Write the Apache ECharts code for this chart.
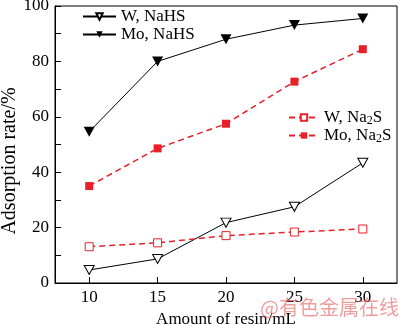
<!DOCTYPE html>
<html><head><meta charset="utf-8">
<script src="https://cdn.jsdelivr.net/npm/echarts@6/dist/echarts.min.js"></script>
<style>html,body{margin:0;padding:0;background:#fff}#c{width:400px;height:324px}</style>
</head><body><div id="c"></div>
<script>
const resinAmount = [10, 15, 20, 25, 30];
const wNaHS = [4.7, 8.7, 21.8, 27.5, 43.4];
const moNaHS = [54.6, 80.0, 88.0, 93.1, 95.5];
const wNa2S = [13.1, 14.5, 17.1, 18.4, 19.5];
const moNa2S = [35.0, 48.6, 57.5, 72.7, 84.4];
const xTicks = [10, 15, 20, 25, 30];
const yTicks = [0, 20, 40, 60, 80, 100];

const FONT = 'Liberation Serif';
const RED = '#e8202a';
const pair = a => resinAmount.map((x, i) => [x, a[i]]);
const tri = 'path://M0,0 L10,0 L5,9 Z';

const chart = echarts.init(document.getElementById('c'), null, {renderer: 'canvas'});
chart.setOption({
  animation: false,
  backgroundColor: '#fff',
  grid: {left: 55, right: 3, top: 6, bottom: 41, show: true, borderColor: '#000', borderWidth: 1,
    outerBoundsMode: 'none', containLabel: false},
  xAxis: {
    type: 'value', min: 7.5, max: 32.5,
    name: 'Amount of resin/mL', nameLocation: 'middle', nameGap: 22,
    nameTextStyle: {fontFamily: FONT, fontSize: 17, color: '#000'},
    axisLine: {show: true, lineStyle: {color: '#000', width: 1}},
    axisTick: {show: true, inside: true, length: 6, customValues: xTicks, lineStyle: {color: '#000'}},
    axisLabel: {customValues: xTicks, fontFamily: FONT, fontSize: 17, color: '#000', margin: 6},
    splitLine: {show: false}
  },
  yAxis: {
    type: 'value', min: 0, max: 100, interval: 20,
    axisLine: {show: true, lineStyle: {color: '#000', width: 1}},
    axisTick: {show: true, inside: true, length: 6, lineStyle: {color: '#000'}},
    minorTick: {show: true, splitNumber: 2, length: 6, lineStyle: {color: '#000'}},
    axisLabel: {fontFamily: FONT, fontSize: 17, color: '#000', margin: 6,
      formatter: v => yTicks.includes(v) ? String(v) : ''},
    splitLine: {show: false}
  },
  legend: [
    {
      data: ['W, NaHS', 'Mo, NaHS'], orient: 'vertical', left: 82, top: 8, padding: 0,
      itemWidth: 33, itemHeight: 8, itemGap: 1,
      textStyle: {fontFamily: FONT, fontSize: 17, color: '#000'}
    },
    {
      data: ['W, Na2S', 'Mo, Na2S'], orient: 'vertical', left: 288, top: 109, padding: 0,
      itemWidth: 30, itemHeight: 8, itemGap: 0,
      formatter: n => '{n|' + n.replace('2S', '') + '}{s|2}{n|S}',
      textStyle: {fontFamily: FONT, fontSize: 17, color: '#000',
        rich: {
          n: {fontFamily: FONT, fontSize: 17, color: '#000'},
          s: {fontFamily: FONT, fontSize: 12, color: '#000', padding: [7, 0, 0, 0]}
        }}
    }
  ],
  series: [
    {name: 'W, NaHS', type: 'line', data: pair(wNaHS), symbol: tri, symbolSize: [10, 9],
      lineStyle: {color: '#000', width: 1}, itemStyle: {color: '#fff', borderColor: '#000', borderWidth: 1}},
    {name: 'Mo, NaHS', type: 'line', data: pair(moNaHS), symbol: tri, symbolSize: [11, 10],
      lineStyle: {color: '#000', width: 1}, itemStyle: {color: '#000', borderColor: '#000', borderWidth: 0}},
    {name: 'W, Na2S', type: 'line', data: pair(wNa2S), symbol: 'rect', symbolSize: 8,
      lineStyle: {color: RED, width: 1.5, type: [6, 4]}, itemStyle: {color: '#fff', borderColor: RED, borderWidth: 1}},
    {name: 'Mo, Na2S', type: 'line', data: pair(moNa2S), symbol: 'rect', symbolSize: 8,
      lineStyle: {color: RED, width: 1.5, type: [6, 4]}, itemStyle: {color: RED, borderColor: RED, borderWidth: 0}}
  ],
  graphic: [
    {type: 'text', x: 10, y: 161, rotation: Math.PI / 2, z: 100,
      style: {text: 'Adsorption rate/%', fontFamily: FONT, fontSize: 20, fill: '#000',
        align: 'center', verticalAlign: 'middle'}},
    {type: 'text', left: 260, top: 297, z: 100,
      style: {text: '@有色金属在线', fontFamily: 'Noto Sans CJK SC', fontSize: 20, fill: 'rgba(232,90,90,0.6)'}}
  ]
});
</script></body></html>
